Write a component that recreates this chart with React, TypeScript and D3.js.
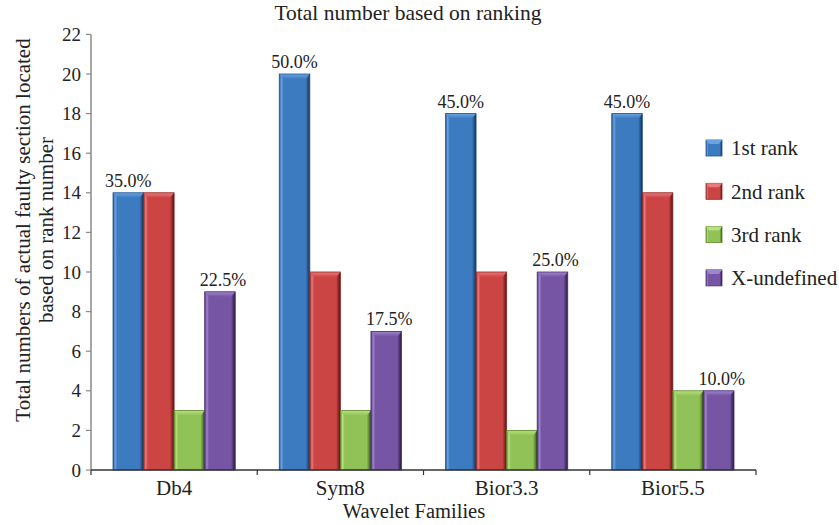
import React from "react";
import * as d3 from "d3";

const categories = ["Db4", "Sym8", "Bior3.3", "Bior5.5"];
const seriesNames = ["1st rank", "2nd rank", "3rd rank", "X-undefined"];
const rank1 = [14, 20, 18, 18];
const rank2 = [14, 10, 10, 14];
const rank3 = [3, 3, 2, 4];
const undefinedRank = [9, 7, 10, 4];
const rank1Labels = ["35.0%", "50.0%", "45.0%", "45.0%"];
const undefinedLabels = ["22.5%", "17.5%", "25.0%", "10.0%"];
const yTicks = [0, 2, 4, 6, 8, 10, 12, 14, 16, 18, 20, 22];

const colors = [
  { base: "#3d7bc0", light: "#6aa3e0", dark: "#24548e" },
  { base: "#cc4545", light: "#ec7a7a", dark: "#8e2626" },
  { base: "#90c257", light: "#b8e07e", dark: "#5e8a2e" },
  { base: "#7656a4", light: "#a085cc", dark: "#4a2f74" },
];

const W = 839;
const H = 525;
const margin = { left: 91, right: 83, top: 34.4, bottom: 55 };
const FONT = "'Liberation Serif', 'DejaVu Serif', serif";

export default function App() {
  const series = [rank1, rank2, rank3, undefinedRank];
  const x0 = d3
    .scaleBand<string>()
    .domain(categories)
    .range([margin.left, W - margin.right])
    .paddingInner(0)
    .paddingOuter(0);
  const x1 = d3
    .scaleBand<string>()
    .domain(seriesNames)
    .range([22, x0.bandwidth() - 22])
    .padding(0);
  const y = d3.scaleLinear().domain([0, 22]).range([H - margin.bottom, margin.top]);
  const bw = x1.bandwidth();
  const y0 = y(0);

  return (
    <svg width={W} height={H} style={{ position: "absolute", left: 0, top: 0, background: "#fff" }} fontFamily={FONT}>
      <defs>
        {colors.map((c, i) => (
          <linearGradient key={i} id={`g${i}`} x1="0" x2="1" y1="0" y2="0">
            <stop offset="0%" stopColor={c.dark} />
            <stop offset="7%" stopColor={c.light} />
            <stop offset="14%" stopColor={c.base} />
            <stop offset="86%" stopColor={c.base} />
            <stop offset="94%" stopColor={c.dark} />
            <stop offset="100%" stopColor="#222" />
          </linearGradient>
        ))}
        {colors.map((c, i) => (
          <linearGradient key={"t" + i} id={`t${i}`} x1="0" x2="0" y1="0" y2="1">
            <stop offset="0%" stopColor={c.light} />
            <stop offset="100%" stopColor={c.base} />
          </linearGradient>
        ))}
      </defs>
      <text x={408} y={20} textAnchor="middle" fontSize={21.5} fill="#222">
        Total number based on ranking
      </text>

      {/* y axis */}
      <line x1={margin.left} x2={margin.left} y1={y(22)} y2={y0} stroke="#8a8a8a" strokeWidth={1.5} />
      {yTicks.map((t) => (
        <g key={t}>
          <line x1={margin.left - 5} x2={margin.left} y1={y(t)} y2={y(t)} stroke="#8a8a8a" strokeWidth={1.2} />
          <text x={margin.left - 10} y={y(t)} dy="0.35em" textAnchor="end" fontSize={19} fill="#222">
            {t}
          </text>
        </g>
      ))}

      {/* bars */}
      {categories.map((cat, ci) =>
        seriesNames.map((s, si) => {
          const v = series[si][ci];
          const bx = (x0(cat) as number) + (x1(s) as number);
          const by = y(v);
          const h = y0 - by;
          return (
            <g key={cat + s}>
              <rect x={bx} y={by} width={bw} height={h} fill={`url(#g${si})`} />
              <path
                d={`M${bx},${by} L${bx + bw},${by} L${bx + bw - 4},${by + 5} L${bx + 4},${by + 5} Z`}
                fill={`url(#t${si})`}
              />
              <rect x={bx} y={by} width={bw} height={h} fill="none" stroke={colors[si].dark} strokeWidth={0.8} />
            </g>
          );
        })
      )}

      {/* value labels */}
      {categories.map((cat, ci) => {
        const bx1 = (x0(cat) as number) + (x1(seriesNames[0]) as number) + bw / 2;
        const bx4 = (x0(cat) as number) + (x1(seriesNames[3]) as number) + bw / 2;
        return (
          <g key={"l" + cat}>
            <text x={bx1} y={y(rank1[ci]) - 6} textAnchor="middle" fontSize={18} fill="#222">
              {rank1Labels[ci]}
            </text>
            <text x={bx4 + 3} y={y(undefinedRank[ci]) - 6} textAnchor="middle" fontSize={18} fill="#222">
              {undefinedLabels[ci]}
            </text>
          </g>
        );
      })}

      {/* x axis */}
      <line x1={margin.left} x2={W - margin.right} y1={y0} y2={y0} stroke="#333" strokeWidth={1.5} />
      {categories.map((cat) => (
        <line key={"tk" + cat} x1={x0(cat)} x2={x0(cat)} y1={y0} y2={y0 + 5} stroke="#333" strokeWidth={1.2} />
      ))}
      <line x1={W - margin.right} x2={W - margin.right} y1={y0} y2={y0 + 5} stroke="#333" strokeWidth={1.2} />
      {categories.map((cat) => (
        <text key={"xl" + cat} x={(x0(cat) as number) + x0.bandwidth() / 2} y={y0 + 25} textAnchor="middle" fontSize={21} fill="#222">
          {cat}
        </text>
      ))}
      <text x={414} y={518} textAnchor="middle" fontSize={20.5} fill="#222">
        Wavelet Families
      </text>

      {/* y label */}
      <g transform="translate(30,230) rotate(-90)">
        <text x={0} y={0} textAnchor="middle" fontSize={21} fill="#222">
          Total numbers of actual faulty section located
        </text>
        <text x={0} y={23} textAnchor="middle" fontSize={21} fill="#222">
          based on rank number
        </text>
      </g>

      {/* legend */}
      {seriesNames.map((s, i) => {
        const ly = 148 + i * 43.3;
        return (
          <g key={"lg" + s}>
            <rect x={706} y={ly - 8} width={16} height={16} fill={`url(#g${i})`} stroke={colors[i].dark} strokeWidth={0.8} />
            <path d={`M706,${ly - 8} L722,${ly - 8} L719,${ly - 4} L709,${ly - 4} Z`} fill={colors[i].light} />
            <text x={731} y={ly} dy="0.35em" fontSize={21} fill="#222">
              {s}
            </text>
          </g>
        );
      })}
    </svg>
  );
}
